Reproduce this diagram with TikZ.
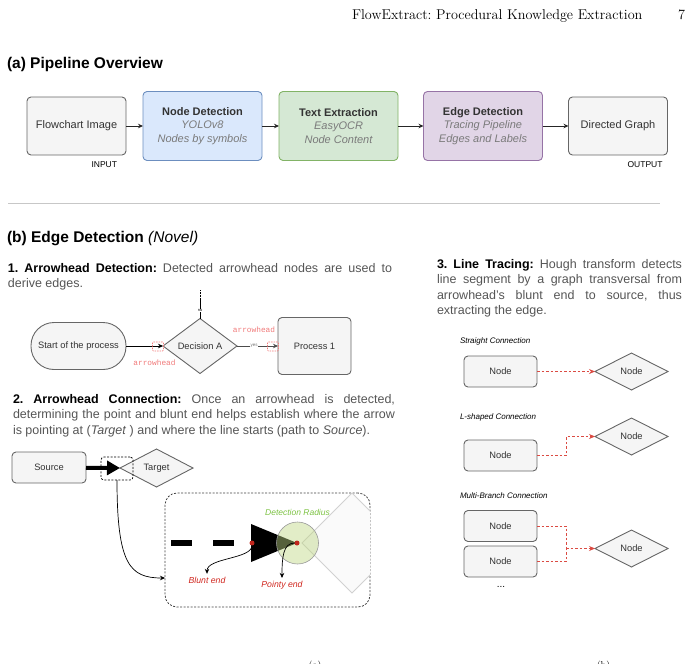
\documentclass[tikz,border=0pt]{standalone}
\usepackage{fontspec}
\setsansfont{Liberation Sans}
\setmonofont{Liberation Mono}
\usetikzlibrary{arrows.meta,positioning,shapes.geometric}
\frenchspacing

\definecolor{boxfill}{HTML}{F5F5F5}
\definecolor{boxline}{HTML}{666666}
\definecolor{textdark}{HTML}{333333}
\definecolor{ndfill}{HTML}{DAE8FC}
\definecolor{ndline}{HTML}{6C8EBF}
\definecolor{tefill}{HTML}{D5E8D4}
\definecolor{teline}{HTML}{82B366}
\definecolor{edfill}{HTML}{E1D5E7}
\definecolor{edline}{HTML}{9673A6}
\definecolor{bodygray}{HTML}{555555}
\definecolor{notegray}{HTML}{7A7A7A}
\definecolor{tracered}{HTML}{DB4B43}
\definecolor{tipred}{HTML}{C0261D}
\definecolor{labelred}{HTML}{D0261E}
\definecolor{markred}{HTML}{F07A7A}
\definecolor{radgreen}{HTML}{7CC242}
\definecolor{radfill}{HTML}{BED683}

\newcommand{\stagenote}[1]{{\itshape\color{notegray}#1}}
\newcommand{\leadin}[1]{\textcolor{black}{\bfseries #1}}

\begin{document}
\begin{tikzpicture}[x=1pt, y=-1pt, >={Stealth[length=5pt, width=4.5pt]},
    every node/.style={inner sep=0pt, outer sep=0pt},
    pbox/.style={draw=boxline, fill=boxfill, line width=0.9pt, rounded corners=4pt,
      minimum width=99pt, minimum height=58pt, align=center, text=textdark,
      font=\sffamily\fontsize{11}{13.5}\selectfont},
    stage/.style={pbox, minimum width=119pt, minimum height=69pt},
    tag/.style={font=\sffamily\fontsize{8.5}{10}\selectfont},
    heading/.style={anchor=west, font=\sffamily\bfseries\fontsize{15.5}{18}\selectfont},
    body/.style={anchor=north west, align=justify, text=bodygray,
      font=\sffamily\fontsize{12.5}{15.5}\selectfont},
    fnode/.style={draw=boxline, fill=boxfill, line width=0.9pt, text=textdark,
      font=\sffamily\fontsize{9.3}{11}\selectfont},
    termnode/.style={fnode, rounded corners=23pt, minimum width=95pt, minimum height=47pt},
    procnode/.style={fnode, rounded corners=4pt, minimum width=73pt, minimum height=57pt},
    decnode/.style={fnode, diamond, minimum width=74pt, minimum height=55pt},
    smallbox/.style={fnode, rounded corners=4pt, minimum width=73pt, minimum height=31pt},
    smalldec/.style={fnode, diamond, minimum width=73pt, minimum height=37pt},
    ahmark/.style={draw=markred, dash pattern=on 1.5pt off 1pt, line width=0.6pt,
      rounded corners=1pt, minimum width=11pt, minimum height=9pt},
    ahlabel/.style={text=markred, font=\ttfamily\fontsize{7.8}{9}\selectfont},
    endlabel/.style={text=labelred, font=\sffamily\itshape\fontsize{8.7}{10}\selectfont},
    kindlabel/.style={anchor=west, font=\sffamily\itshape\fontsize{8}{10}\selectfont},
    tracearrow/.style={draw=tracered, line width=0.9pt, dash pattern=on 2.5pt off 2pt},
    reddot/.style={circle, fill=tipred, minimum size=5pt}]

  \useasboundingbox (0,0) rectangle (694,664);

  % page header
  \node[anchor=base west, font=\rmfamily\fontsize{14.2}{17}\selectfont] (hdr) at (352,19)
    {FlowExtract: Procedural Knowledge Extraction};
  \node[anchor=base east, font=\rmfamily\fontsize{14.2}{17}\selectfont] (pg) at (685,19) {7};

  % (a) pipeline
  \node[heading] (tita) at (7,64) {(a) Pipeline Overview};
  \node[pbox] (img) at (76.5,126) {Flowchart Image};
  \node[stage, fill=ndfill, draw=ndline] (nd) at (202.5,126)
    {\textbf{Node Detection}\\ \stagenote{YOLOv8}\\ \stagenote{Nodes by symbols}};
  \node[stage, fill=tefill, draw=teline] (te) at (338.5,126)
    {\textbf{Text Extraction}\\ \stagenote{EasyOCR}\\ \stagenote{Node Content}};
  \node[stage, fill=edfill, draw=edline] (ed) at (483,126)
    {\textbf{Edge Detection}\\ \stagenote{Tracing Pipeline}\\ \stagenote{Edges and Labels}};
  \node[pbox] (dg) at (618,126) {Directed Graph};
  \node[tag, below left=7pt and 9pt of img.south east] (inp) {INPUT};
  \node[tag, below left=7pt and 5pt of dg.south east] (outp) {OUTPUT};
  \foreach \a/\b in {img/nd, nd/te, te/ed, ed/dg}
    \draw[->, line width=0.8pt, black!85] (\a) -- (\b);

  \draw[black!22, line width=0.8pt] (8,203) -- (660,203);

  % (b) edge detection
  \node[heading] (titb) at (7,239) {(b) Edge Detection \textit{\mdseries (Novel)}};

  % 1. arrowhead detection
  \node[body, text width=384pt] (s1) at (8,263)
    {\leadin{1. Arrowhead Detection:} Detected arrowhead nodes are used to \linebreak derive edges.};
  \node[termnode] (st) at (78.5,346) {Start of the process};
  \node[decnode] (da) at (200,346) {Decision A};
  \node[procnode] (p1) at (314.5,346) {Process 1};
  \coordinate (inc) at (200,290);
  \draw[densely dotted, line width=0.5pt] (inc) -- (200,298);
  \draw[line width=0.5pt] (200,298) -- (da.north)
    node[pos=0.6, fill=white, inner sep=0.5pt, font=\sffamily\fontsize{4}{4}\selectfont] (nolab) {no};
  \draw[->, line width=0.7pt] (st) -- (da.west);
  \draw[->, line width=0.7pt, black!70] (da.east) -- (p1.west)
    node[pos=0.42, fill=white, inner sep=0.5pt, text=black!55, font=\sffamily\fontsize{4.5}{5}\selectfont] (yeslab) {yes};
  \node[ahmark] (ah1) at (158,346.5) {};
  \node[ahmark] (ah2) at (273,346.5) {};
  \node[ahlabel] (ahl1) at (154.5,363) {arrowhead};
  \node[ahlabel] (ahl2) at (254,330) {arrowhead};

  % 2. arrowhead connection
  \node[body, text width=382pt] (s2) at (13,394)
    {\leadin{2. Arrowhead Connection:} Once an arrowhead is detected, \linebreak
     determining the point and blunt end helps establish where the arrow \linebreak
     is pointing at (\textit{Target} ) and where the line starts (path to \textit{Source}).};
  \node[smallbox, minimum width=74pt] (src) at (49,467.5) {Source};
  \node[smalldec, minimum height=38pt] (tgt) at (156.5,468) {Target};
  \draw[line width=4pt, -{Triangle[length=13pt, width=14pt]}] (src) -- (tgt.west);
  \node[draw, dash pattern=on 2pt off 1.5pt, line width=0.7pt, rounded corners=3pt,
    minimum width=32pt, minimum height=23pt] (hb) at (117,468.5) {};
  \node[draw=black!75, dash pattern=on 2pt off 1.5pt, line width=0.8pt, rounded corners=12pt,
    minimum width=205pt, minimum height=114pt] (zb) at (267.5,550) {};
  \coordinate (zin) at (165,578);
  \draw[->, line width=0.7pt] (hb.south) .. controls +(0,85) and +(-35,0) .. (zin);
  \begin{scope}
    \clip[rounded corners=12pt] (165,493) rectangle (370,607);
    \draw[fill=black!2, draw=black!18, line width=1pt]
      (302,543) -- (352,493) -- (402,543) -- (352,593) -- cycle;
  \end{scope}
  \draw[line width=6pt] (171,543) -- (192,543);
  \draw[line width=6pt] (213,543) -- (234,543);
  \fill (251,524) -- (297,543) -- (251,562) -- cycle;
  \node[circle, minimum size=42pt, fill=radfill, fill opacity=0.45,
    draw=black!40, line width=0.6pt] (rad) at (297.5,543) {};
  \node[font=\sffamily\itshape\fontsize{8.5}{10}\selectfont, text=radgreen] (radl) at (297.5,512)
    {Detection Radius};
  \node[reddot] (blunt) at (252,543) {};
  \node[reddot] (point) at (297,543) {};
  \node[endlabel] (bl) at (207,580) {Blunt end};
  \node[endlabel] (pl) at (282,585) {Pointy end};
  \draw[->, line width=0.7pt] (blunt) .. controls +(0,16) and +(0,-16) .. ([yshift=3pt]bl.north);
  \draw[->, line width=0.7pt] (point) .. controls +(-14,0) and +(0,-20) .. ([yshift=3pt]pl.north);

  % 3. line tracing
  \node[body, text width=245pt] (s3) at (437,259)
    {\leadin{3. Line Tracing:} Hough transform detects \linebreak line segment by a graph transversal from
     \linebreak arrowhead's blunt end to source, thus \linebreak extracting the edge.};

  \node[kindlabel] (k1) at (460,341) {Straight Connection};
  \node[smallbox] (n1) at (500.5,371.5) {Node};
  \node[smalldec] (d1) at (631.5,371.5) {Node};
  \draw[tracearrow, -{Stealth[length=6pt, width=5pt, fill=tipred]}] (n1) -- (d1.west);

  \node[kindlabel] (k2) at (460,417) {L-shaped Connection};
  \node[smallbox] (n2) at (500.5,455.5) {Node};
  \node[smalldec] (d2) at (631.5,436.5) {Node};
  \draw[tracearrow, -{Stealth[length=6pt, width=5pt, fill=tipred]}] (n2.east) -- ++(29,0) |- (d2.west);

  \node[kindlabel] (k3) at (460,496) {Multi-Branch Connection};
  \node[smallbox] (n3) at (500.5,526) {Node};
  \node[smallbox] (n4) at (500.5,561.5) {Node};
  \node[smalldec] (d3) at (631.5,548.5) {Node};
  \coordinate (j3) at (566,548.5);
  \draw[tracearrow] (n3.east) -| (j3);
  \draw[tracearrow] (n4.east) -| (j3);
  \draw[tracearrow, -{Stealth[length=6pt, width=5pt, fill=tipred]}] (j3) -- (d3.west);
  \node[font=\sffamily\fontsize{10}{12}\selectfont] (more) at (501,587) {...};

  % cut-off captions
  \node[font=\rmfamily\fontsize{10}{12}\selectfont] (capa) at (315,665.5) {(a)};
  \node[font=\rmfamily\fontsize{10}{12}\selectfont] (capb) at (603.5,665.5) {(b)};
\end{tikzpicture}
\end{document}
